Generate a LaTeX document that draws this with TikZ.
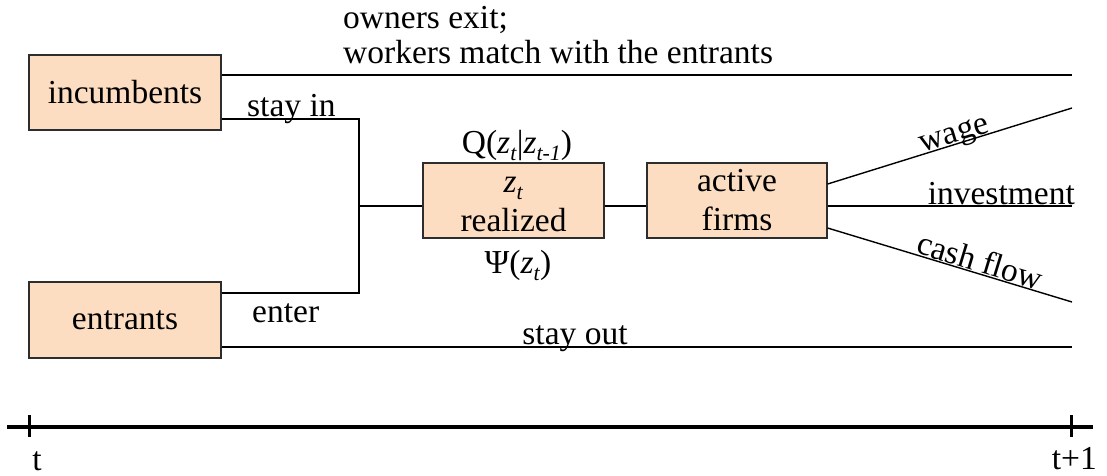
\documentclass[tikz,border=0pt]{standalone}
\usepackage{fontspec}
\setmainfont{Liberation Serif}
\definecolor{peach}{RGB}{252,221,194}
\definecolor{boxline}{RGB}{45,45,45}
\tikzset{
  every node/.style={font=\fontsize{33.5}{39}\selectfont, inner sep=0pt},
  stagebox/.style={draw=boxline, line width=1.2pt, fill=peach, align=center},
  flow/.style={line width=1.4pt},
  timeline/.style={line width=3.2pt},
  lbl/.style={anchor=base west},
}
% italic z with a lowered, smaller italic index
\newcommand{\zsub}[1]{\textit{z}\raisebox{-7pt}{\fontsize{22}{22}\selectfont\textit{#1}}}
\begin{document}
\begin{tikzpicture}[x=1pt,y=-1pt]
\useasboundingbox (0,0) rectangle (1107,475);

% stage boxes
\node[stagebox, minimum width=192pt, minimum height=75pt] (inc) at (125,92.5) {incumbents};
\node[stagebox, minimum width=192pt, minimum height=76pt] (ent) at (125,320) {entrants};
\node[stagebox, minimum width=181pt, minimum height=75pt] (zb) at (513.5,200.5) {\vphantom{l}\zsub{t}\\realized};
\node[stagebox, minimum width=180pt, minimum height=75pt] (af) at (737,200.5) {active\\firms};

% free ends of the branches at t+1
\coordinate (exitend) at (1072,75);
\coordinate (wageend) at (1072,108);
\coordinate (invend) at (1072,206);
\coordinate (cashend) at (1072,302);
\coordinate (outend) at (1072,347);
\coordinate (join) at (359,206);

% incumbents: exit or stay in
\draw[flow] (inc.east |- exitend) -- (exitend);
\draw[flow] (inc.east |- 0,119) -| (join) |- (ent.east |- 0,293);
\draw[flow] (ent.east |- outend) -- (outend);

% shock realisation and active firms
\draw[flow] (join) -- (zb.west |- join);
\draw[flow] (zb.east |- join) -- (af.west |- join);
\draw[flow] (af.east |- 0,184) -- node[pos=0.53, sloped, anchor=south, text depth=0pt, inner sep=1pt] (wagelbl) {wage} (wageend);
\draw[flow] (af.east |- invend) -- (invend);
\draw[flow] (af.east |- 0,228) -- node[pos=0.61, sloped, anchor=south, text depth=0pt, inner sep=1pt] (cashlbl) {cash flow} (cashend);

% labels
\node[lbl] (exitlbl1) at (343,28) {owners exit;};
\node[lbl] (exitlbl2) at (343,63) {workers match with the entrants};
\node[lbl] (stayin) at (247,116) {stay in};
\node[lbl] (enter) at (252,322) {enter};
\node[anchor=base] (stayout) at (575,344) {stay out};
\node[anchor=base east] (invlbl) at (1075,204) {investment};
\node[anchor=base] (qlbl) at (517,153) {Q(\zsub{t}|\zsub{t-1})};
\node[anchor=base] (psilbl) at (518,273) {Ψ(\zsub{t})};

% time axis
\coordinate (axl) at (7,427);
\coordinate (axr) at (1093,427);
\coordinate (tick0) at (29,427);
\coordinate (tick1) at (1071,427);
\draw[timeline] (axl) -- (axr);
\draw[line width=3pt] (tick0) ++(0,-12) -- ++(0,22);
\draw[line width=3pt] (tick1) ++(0,-12) -- ++(0,22);
\node[anchor=base] (tlbl) at (37,470) {t};
\node[anchor=base east] (t1lbl) at (1097,469) {t+1};
\end{tikzpicture}
\end{document}
